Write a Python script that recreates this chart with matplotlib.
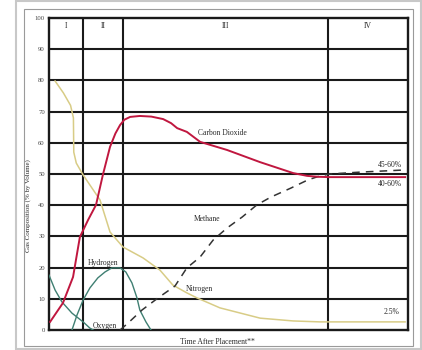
import matplotlib.pyplot as plt
from matplotlib.patches import Rectangle

# x is "time after placement" on an arbitrary 0-100 scale
phase_edges = [0, 9.5, 20.6, 77.7, 100]
phase_labels = ["I", "II", "III", "IV"]

nitrogen_x = [1.7, 4.0, 6.0, 6.8, 6.9, 7.6, 9.5, 14.2, 17.0, 20.6, 26.2, 30.9, 34.5, 38.4, 41.2, 47.6, 58.8, 68.0, 75.5, 99.2]
nitrogen_y = [79.8, 76.0, 72.0, 68.0, 57.0, 53.5, 49.7, 41.7, 31.4, 26.6, 23.1, 19.2, 14.4, 11.9, 10.3, 7.1, 3.8, 2.9, 2.6, 2.6]

co2_x = [0.3, 3.9, 6.7, 8.6, 10.9, 13.1, 15.0, 17.0, 18.5, 19.8, 21.0, 22.6, 25.3, 28.5, 31.8, 34.0, 35.7, 38.4, 42.1, 49.6, 58.8, 68.0, 71.9, 75.0, 78.3, 99.2]
co2_y = [2.6, 8.7, 17.0, 29.8, 35.3, 40.1, 49.7, 58.7, 63.0, 65.7, 67.4, 68.3, 68.6, 68.4, 67.6, 66.3, 64.7, 63.5, 60.3, 57.7, 53.8, 50.3, 49.4, 49.1, 49.0, 49.0]

hydrogen_x = [6.4, 7.8, 9.5, 11.4, 13.6, 15.6, 17.5, 19.8, 21.4, 23.1, 24.5, 25.3, 27.0, 28.4]
hydrogen_y = [0.0, 4.8, 9.6, 13.5, 16.7, 18.6, 19.9, 19.9, 18.6, 15.1, 10.3, 6.4, 2.6, 0.0]

oxygen_x = [0.0, 1.7, 3.6, 6.4, 9.5, 11.4, 12.3]
oxygen_y = [17.6, 12.8, 9.0, 5.4, 2.6, 0.6, 0.0]

methane_x = [19.8, 22.0, 25.9, 30.4, 35.1, 38.4, 42.1, 45.7, 49.6, 53.8, 57.9, 61.8, 67.4, 72.1, 75.5, 78.3, 86.6, 99.2]
methane_y = [0.0, 2.2, 6.4, 10.3, 14.1, 19.9, 23.4, 28.8, 32.7, 36.2, 40.1, 42.6, 45.5, 48.1, 49.4, 50.0, 50.6, 51.3]

fig = plt.figure(figsize=(4.22, 3.5), dpi=100)
fig.patch.set_facecolor("white")

# picture frame around the chart
fig.patches.append(Rectangle((16 / 422, 1 / 350), 405 / 422, 348 / 350, transform=fig.transFigure,
                             fill=False, edgecolor="#c8c8c8", lw=1.5))
fig.patches.append(Rectangle((24 / 422, 4 / 350), 389 / 422, 337 / 350, transform=fig.transFigure,
                             fill=False, edgecolor="#9a9a9a", lw=0.8))

ax = fig.add_axes([49 / 422, 20 / 350, 359 / 422, 312 / 350])
ax.set_xlim(0, 100)
ax.set_ylim(0, 100)

serif = "Liberation Serif"
txt = dict(fontsize=5.5, family=serif, ha="center", va="center", color="#2a2a2a")

# horizontal grid and phase boundaries
for y in range(10, 100, 10):
    ax.axhline(y, color="#1a1a1a", lw=1.5, zorder=1)
for x in phase_edges[1:-1]:
    ax.axvline(x, color="#1a1a1a", lw=1.5, zorder=1)
for i, lab in enumerate(phase_labels):
    ax.text((phase_edges[i] + phase_edges[i + 1]) / 2, 97.3, lab, **txt)

ax.plot(nitrogen_x, nitrogen_y, color="#d8cc86", lw=1.1, zorder=3)
ax.plot(oxygen_x, oxygen_y, color="#3f7f72", lw=1.0, zorder=3)
ax.plot(hydrogen_x, hydrogen_y, color="#3f7f72", lw=1.0, zorder=3)
ax.plot(methane_x, methane_y, color="#333333", lw=1.1, ls=(0, (5, 4)), zorder=3)
ax.plot(co2_x, co2_y, color="#c0173f", lw=1.4, zorder=4)

ax.text(48.2, 63.1, "Carbon Dioxide", **txt)
ax.text(44.0, 35.6, "Methane", **txt)
ax.text(42.0, 13.1, "Nitrogen", **txt)
ax.text(15.0, 21.5, "Hydrogen", **txt)
ax.text(15.6, 1.3, "Oxygen", **txt)
ax.text(95.0, 52.9, "45-60%", **txt)
ax.text(95.0, 46.8, "40-60%", **txt)
ax.text(95.5, 5.8, "2.5%", **txt)

ax.set_xticks([])
ax.set_yticks(range(0, 101, 10))
ax.set_yticklabels([str(v) for v in range(0, 101, 10)], fontsize=4.8, family=serif, color="#444444")
ax.tick_params(axis="y", length=0, pad=3)
for s in ax.spines.values():
    s.set_color("#1a1a1a")
    s.set_linewidth(1.7)

ax.set_ylabel("Gas Composition (% by Volume)", fontsize=5, family=serif, color="#2a2a2a")
ax.yaxis.set_label_coords(-0.05, 0.40)
ax.set_xlabel("Time After Placement**", fontsize=5.5, family=serif, color="#2a2a2a")
ax.xaxis.set_label_coords(0.468, -0.025)

fig.savefig("out.png", dpi=100)
